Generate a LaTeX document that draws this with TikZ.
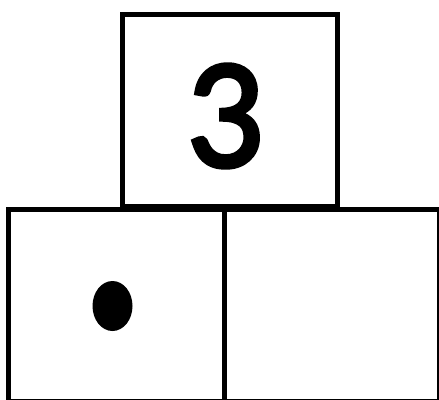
\documentclass[tikz,border=0pt]{standalone}
\usepackage{fontspec}
\setmainfont{Lato}
\newfontfamily\threefont[FakeBold=3.5]{Lato}
\begin{document}
\begin{tikzpicture}[x=1pt,y=-1pt,
  box/.style={draw=black, line width=5pt, inner sep=0pt, outer sep=0pt, fill=none}]
\useasboundingbox (0,0) rectangle (439,399);
\node[box, minimum width=215pt, minimum height=192pt] (top) at (230,110) {};
\node[box, minimum width=216pt, minimum height=191.5pt] (left) at (116.5,305.25) {};
\node[box, minimum width=215pt, minimum height=191.5pt] (right) at (332,305.25) {};
\node[inner sep=0pt, font=\threefont\fontsize{140}{140}\selectfont, xscale=0.95, transform shape] (three) at (226.5,116) {3};
\fill[black] (112.5,306) ellipse [x radius=20pt, y radius=25pt];
\end{tikzpicture}
\end{document}
